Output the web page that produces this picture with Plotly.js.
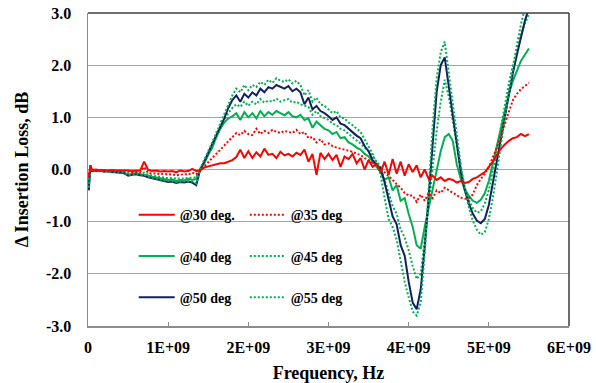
<!DOCTYPE html>
<html>
<head>
<meta charset="utf-8">
<script src="https://cdn.plot.ly/plotly-3.0.1.min.js"></script>
<style>
  html, body { margin: 0; padding: 0; background: #ffffff; }
  #chart { width: 596px; height: 383px; }
</style>
</head>
<body>
<div id="chart"></div>
<script>
// Measurement frequencies, GHz
const freqGHz = [
  0.01, 0.03,
  0.05, 0.10, 0.15, 0.20, 0.25, 0.30, 0.35, 0.40, 0.45, 0.50,
  0.55, 0.60, 0.65, 0.70, 0.75, 0.80, 0.85, 0.90, 0.95, 1.00,
  1.05, 1.10, 1.15, 1.20, 1.25, 1.30, 1.35, 1.40, 1.45, 1.50,
  1.55, 1.60, 1.65, 1.70, 1.75, 1.80, 1.85, 1.90, 1.95, 2.00,
  2.05, 2.10, 2.15, 2.20, 2.25, 2.30, 2.35, 2.40, 2.45, 2.50,
  2.55, 2.60, 2.65, 2.70, 2.75, 2.80, 2.85, 2.90, 2.95, 3.00,
  3.05, 3.10, 3.15, 3.20, 3.25, 3.30, 3.35, 3.40, 3.45, 3.50,
  3.55, 3.60, 3.65, 3.70, 3.75, 3.80, 3.85, 3.90, 3.95, 4.00,
  4.05, 4.10, 4.15, 4.20, 4.25, 4.30, 4.35, 4.40, 4.45, 4.50,
  4.55, 4.60, 4.65, 4.70, 4.75, 4.80, 4.85, 4.90, 4.95, 5.00,
  5.05, 5.10, 5.15, 5.20, 5.25, 5.30, 5.35, 5.40, 5.45, 5.50
];

// Change in insertion loss (dB) for each incidence angle
const deg30 = [
  -0.15, 0.08,
  -0.01, 0.00, -0.02, -0.01, -0.02, -0.01, -0.02, -0.02, -0.01, -0.02,
  -0.03, -0.02, -0.02, 0.15, -0.01, -0.03, -0.02, -0.04, -0.03, -0.04,
  -0.03, -0.05, -0.02, -0.04, -0.03, 0.01, -0.03, -0.02, 0.04, 0.06,
  0.08, 0.10, 0.12, 0.12, 0.15, 0.18, 0.24, 0.38, 0.22, 0.35,
  0.22, 0.33, 0.25, 0.40, 0.28, 0.30, 0.22, 0.34, 0.27, 0.30,
  0.25, 0.32, 0.28, 0.38, 0.15, 0.30, -0.10, 0.32, 0.20, 0.30,
  0.18, 0.28, 0.05, 0.25, 0.20, 0.30, 0.12, 0.22, 0.00, 0.18,
  0.05, 0.10, -0.05, 0.15, -0.10, 0.20, -0.08, 0.15, -0.12, 0.10,
  -0.05, 0.08, -0.15, 0.00, -0.18, -0.12, -0.20, -0.15, -0.22, -0.18,
  -0.20, -0.25, -0.22, -0.26, -0.24, -0.18, -0.15, -0.10, -0.05, 0.05,
  0.15, 0.28, 0.40, 0.48, 0.55, 0.60, 0.62, 0.68, 0.64, 0.68
];
const deg35 = [
  -0.10, 0.05,
  -0.02, -0.01, -0.03, -0.02, -0.03, -0.02, -0.03, -0.03, -0.02, -0.04,
  -0.05, -0.04, -0.05, 0.05, -0.07, -0.08, -0.07, -0.09, -0.08, -0.10,
  -0.09, -0.11, -0.10, -0.09, -0.10, -0.06, -0.09, -0.02, 0.06, 0.14,
  0.22, 0.30, 0.38, 0.46, 0.54, 0.62, 0.70, 0.66, 0.74, 0.68,
  0.66, 0.78, 0.68, 0.74, 0.70, 0.76, 0.72, 0.70, 0.74, 0.72,
  0.70, 0.76, 0.68, 0.72, 0.60, 0.62, 0.52, 0.58, 0.48, 0.50,
  0.45, 0.42, 0.40, 0.38, 0.36, 0.34, 0.30, 0.28, 0.22, 0.18,
  0.12, 0.08, 0.02, -0.05, -0.12, -0.20, -0.28, -0.35, -0.45, -0.50,
  -0.50, -0.62, -0.48, -0.60, -0.45, -0.55, -0.40, -0.45, -0.35, -0.40,
  -0.45, -0.50, -0.54, -0.56, -0.55, -0.48, -0.30, -0.18, -0.08, 0.05,
  0.22, 0.42, 0.65, 0.88, 1.10, 1.33, 1.45, 1.54, 1.60, 1.66
];
const deg40 = [
  -0.30, 0.05,
  -0.02, -0.03, -0.02, -0.04, -0.03, -0.05, -0.04, -0.05, -0.06, -0.10,
  -0.08, -0.07, -0.09, -0.10, -0.12, -0.14, -0.15, -0.17, -0.18, -0.20,
  -0.19, -0.22, -0.20, -0.21, -0.18, -0.20, -0.18, 0.00, 0.12, 0.28,
  0.42, 0.62, 0.78, 0.90, 0.98, 1.02, 1.08, 0.95, 1.10, 1.00,
  1.08, 0.98, 1.12, 1.02, 1.10, 1.05, 1.12, 1.08, 1.04, 1.10,
  1.02, 1.00, 1.05, 0.95, 0.98, 0.80, 0.92, 0.85, 0.78, 0.75,
  0.68, 0.72, 0.60, 0.62, 0.52, 0.48, 0.42, 0.38, 0.30, 0.25,
  0.15, 0.05, -0.05, -0.20, -0.15, -0.40, -0.30, -0.60, -0.55, -0.85,
  -1.10, -1.45, -1.52, -1.10, -0.72, -0.35, 0.03, 0.35, 0.62, 0.68,
  0.55, 0.10, -0.18, -0.38, -0.50, -0.60, -0.64, -0.58, -0.45, -0.22,
  0.12, 0.45, 0.80, 1.15, 1.45, 1.70, 1.90, 2.08, 2.20, 2.32
];
const deg45 = [
  -0.25, 0.06,
  -0.02, -0.02, -0.03, -0.03, -0.04, -0.04, -0.05, -0.05, -0.05, -0.08,
  -0.07, -0.07, -0.08, -0.06, -0.10, -0.12, -0.13, -0.14, -0.15, -0.17,
  -0.16, -0.18, -0.17, -0.18, -0.16, -0.15, -0.15, 0.00, 0.14, 0.30,
  0.45, 0.62, 0.80, 0.95, 1.08, 1.18, 1.25, 1.20, 1.30, 1.22,
  1.30, 1.25, 1.35, 1.28, 1.32, 1.30, 1.36, 1.30, 1.33, 1.35,
  1.28, 1.30, 1.25, 1.22, 1.20, 1.05, 1.12, 1.02, 0.98, 0.95,
  0.88, 0.85, 0.78, 0.75, 0.68, 0.62, 0.55, 0.50, 0.42, 0.35,
  0.25, 0.15, 0.05, -0.20, -0.45, -0.70, -0.85, -1.15, -1.30, -1.55,
  -1.85, -2.10, -2.00, -1.40, -0.70, 0.05, 0.75, 1.30, 1.72, 1.40,
  0.95, 0.45, 0.02, -0.35, -0.58, -0.74, -0.83, -0.80, -0.65, -0.40,
  -0.05, 0.35, 0.80, 1.25, 1.65, 2.00, 2.30, 2.58, 2.80, 2.98
];
const deg50 = [
  -0.40, 0.08,
  -0.03, -0.03, -0.02, -0.04, -0.03, -0.05, -0.05, -0.06, -0.07, -0.12,
  -0.10, -0.09, -0.11, -0.12, -0.15, -0.17, -0.19, -0.21, -0.22, -0.24,
  -0.23, -0.26, -0.24, -0.25, -0.23, -0.25, -0.30, 0.00, 0.15, 0.33,
  0.48, 0.66, 0.82, 0.98, 1.18, 1.33, 1.42, 1.30, 1.45, 1.38,
  1.48, 1.42, 1.55, 1.48, 1.58, 1.55, 1.62, 1.58, 1.55, 1.60,
  1.50, 1.55, 1.48, 1.25, 1.38, 1.15, 1.22, 1.12, 1.08, 1.02,
  0.95, 1.00, 0.88, 0.85, 0.78, 0.72, 0.65, 0.60, 0.45, 0.35,
  0.18, 0.10, 0.02, -0.25, -0.55, -0.90, -1.05, -1.45, -1.65, -2.15,
  -2.55, -2.68, -2.30, -1.50, -0.50, 0.50, 1.50, 2.00, 2.15, 1.60,
  1.05, 0.50, -0.05, -0.40, -0.65, -0.85, -0.98, -1.03, -0.95, -0.68,
  -0.25, 0.18, 0.62, 1.05, 1.45, 1.85, 2.20, 2.54, 2.85, 3.10
];
const deg55 = [
  -0.35, 0.06,
  -0.03, -0.02, -0.03, -0.03, -0.04, -0.04, -0.05, -0.06, -0.06, -0.11,
  -0.09, -0.08, -0.10, -0.10, -0.14, -0.16, -0.18, -0.19, -0.21, -0.22,
  -0.22, -0.24, -0.23, -0.23, -0.22, -0.23, -0.27, 0.02, 0.18, 0.36,
  0.52, 0.70, 0.88, 1.05, 1.25, 1.42, 1.55, 1.48, 1.62, 1.52,
  1.62, 1.58, 1.68, 1.62, 1.72, 1.66, 1.75, 1.70, 1.68, 1.73,
  1.65, 1.70, 1.62, 1.42, 1.52, 1.30, 1.38, 1.25, 1.22, 1.15,
  1.08, 1.12, 1.00, 0.98, 0.90, 0.85, 0.78, 0.72, 0.58, 0.45,
  0.30, 0.12, -0.10, -0.55, -0.95, -1.10, -1.35, -1.75, -2.15, -2.45,
  -2.72, -2.80, -2.55, -1.60, -0.40, 0.85, 1.75, 2.25, 2.45, 1.85,
  1.20, 0.60, 0.08, -0.35, -0.72, -0.98, -1.15, -1.25, -1.20, -0.95,
  -0.55, -0.05, 0.50, 1.00, 1.48, 1.95, 2.38, 2.78, 3.10, 3.40
];

// Axis ticks
const xTickVals = [0, 1e9, 2e9, 3e9, 4e9, 5e9, 6e9];
const xTickText = ['0', '1E+09', '2E+09', '3E+09', '4E+09', '5E+09', '6E+09'];
const yTickVals = [-3, -2, -1, 0, 1, 2, 3];
const yTickText = ['-3.0', '-2.0', '-1.0', '0.0', '1.0', '2.0', '3.0'];

const freqHz = freqGHz.map(f => f * 1e9);

const RED = '#ff0000', GREEN = '#00b050', NAVY = '#102060';
const DOTS = '2px,2px';

// series: name, values, colour, dash, legend box, rank within that box
const series = [
  { name: '@40 deg',  y: deg40, color: GREEN, dash: 'solid', legend: 'legend',  rank: 2 },
  { name: '@45 deg',  y: deg45, color: GREEN, dash: DOTS,    legend: 'legend2', rank: 2 },
  { name: '@50 deg',  y: deg50, color: NAVY,  dash: 'solid', legend: 'legend',  rank: 3 },
  { name: '@55 deg',  y: deg55, color: GREEN, dash: DOTS,    legend: 'legend2', rank: 3 },
  { name: '@35 deg',  y: deg35, color: RED,   dash: DOTS,    legend: 'legend2', rank: 1 },
  { name: '@30 deg.', y: deg30, color: RED,   dash: 'solid', legend: 'legend',  rank: 1 }
];

const data = series.map(s => ({
  type: 'scatter',
  mode: 'lines',
  x: freqHz,
  y: s.y,
  name: s.name,
  legend: s.legend,
  legendrank: s.rank,
  legendgroup: s.name,
  line: { color: s.color, width: 2, dash: s.dash },
  hoverinfo: 'skip'
}));

const serif = 'Liberation Serif, Times New Roman, serif';
const legendBox = (x) => ({
  x: x, y: 0.405, xanchor: 'left', yanchor: 'top',
  bgcolor: 'rgba(0,0,0,0)', borderwidth: 0,
  traceorder: 'grouped', tracegroupgap: 20, itemwidth: 36,
  font: { family: serif, size: 14, weight: 'bold', color: '#000' }
});

const layout = {
  width: 596, height: 383,
  margin: { l: 88, r: 27, t: 13, b: 57 },
  paper_bgcolor: '#ffffff',
  plot_bgcolor: '#ffffff',
  showlegend: true,
  legend: legendBox(0.095),
  legend2: legendBox(0.326),
  xaxis: {
    range: [0, 6e9],
    tickvals: xTickVals, ticktext: xTickText,
    ticks: 'inside', ticklen: 4, tickwidth: 1, tickcolor: '#8c8c8c',
    ticklabelstandoff: 6,
    showgrid: false, zeroline: false,
    showline: true, linecolor: '#8c8c8c', linewidth: 1.5,
    tickfont: { family: serif, size: 16, weight: 'bold', color: '#000' },
    title: { text: 'Frequency, Hz', standoff: 12,
             font: { family: serif, size: 18, weight: 'bold', color: '#000' } }
  },
  yaxis: {
    range: [-3, 3],
    tickvals: yTickVals, ticktext: yTickText,
    ticks: '', ticklabelstandoff: 12,
    showgrid: true, gridcolor: '#a6a6a6', gridwidth: 1,
    zeroline: false,
    showline: true, linecolor: '#8c8c8c', linewidth: 1.5,
    tickfont: { family: serif, size: 16, weight: 'bold', color: '#000' },
    title: { text: 'Δ Insertion Loss, dB', standoff: 12,
             font: { family: serif, size: 18, weight: 'bold', color: '#000' } }
  },
  shapes: [
    { type: 'line', xref: 'paper', yref: 'paper', x0: 0, x1: 1, y0: 1, y1: 1,
      line: { color: '#3c3c3c', width: 1.5 } },
    { type: 'line', xref: 'paper', yref: 'paper', x0: 1, x1: 1, y0: 0, y1: 1,
      line: { color: '#3c3c3c', width: 1.5 } }
  ]
};

Plotly.newPlot('chart', data, layout, { staticPlot: true, displayModeBar: false });
</script>
</body>
</html>
